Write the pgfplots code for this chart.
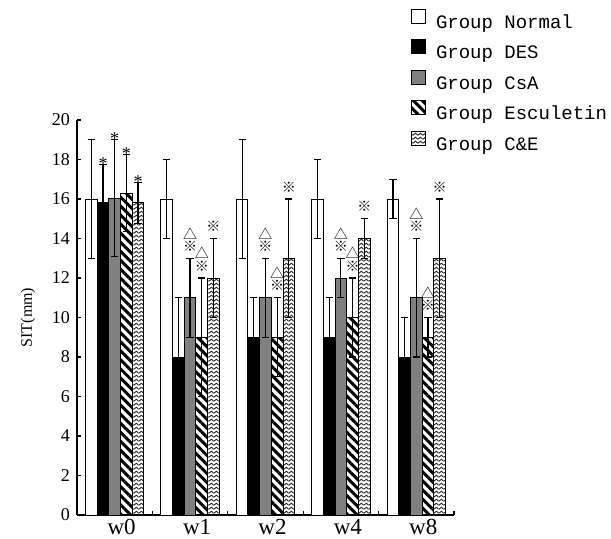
\documentclass[border=0pt]{standalone}
\usepackage{fontspec}
\setmainfont{Liberation Serif}
\newfontfamily\cjk{Noto Sans CJK SC}
\newfontfamily\legfont{Liberation Mono}
\usepackage{pgfplots}
\pgfplotsset{compat=1.18}
\usetikzlibrary{patterns,patterns.meta}

\tikzdeclarepattern{
  name=zigzag,
  type=uncolored,
  bounding box={(0pt,0pt) and (2.4pt,2.1pt)},
  tile size={(2.4pt,2.1pt)},
  code={
    \draw[line width=0.5pt] (0pt,0.45pt) -- (1.2pt,1.65pt) -- (2.4pt,0.45pt);
  }
}

\pgfplotsset{
  mybar/.style={ybar, bar width=0.155, bar shift=0pt, draw=black, line width=0.5pt,
    error bars/y dir=both, error bars/y explicit,
    error bars/error bar style={line width=0.6pt, black, solid},
    error bars/error mark options={rotate=90, mark size=1.8pt, line width=0.6pt, black, solid}},
  sym/.style={draw=none, mark=none, forget plot, nodes near coords={#1},
    every node near coord/.append style={anchor=center, inner sep=0pt, black}},
}

\begin{document}
\begin{tikzpicture}
\path[use as bounding box] (-38.5pt,-11.5pt) rectangle (267pt,257.5pt);
\begin{axis}[
  at={(0pt,0pt)}, anchor=south west,
  scale only axis, width=188.5pt, height=197.5pt,
  xmin=0, xmax=5, ymin=0, ymax=20,
  axis x line*=bottom, axis y line*=left,
  axis line style={line width=0.8pt},
  tick align=inside,
  xtick={1,2,3,4,5}, xticklabels={},
  extra x ticks={0.5,1.5,2.5,3.5,4.5},
  extra x tick labels={w0,w1,w2,w4,w8},
  extra x tick style={major tick length=0pt},
  ytick={0,2,...,20},
  major tick length=2.2pt,
  tick style={black, line width=0.6pt},
  /pgf/number format/assume math mode=true,
  yticklabel style={font=\fontsize{9}{10}\selectfont},
  xticklabel style={font=\fontsize{11.5}{12}\selectfont, xshift=3.5pt, yshift=1.5pt},
  ylabel={SIT(mm)},
  ylabel style={at={(axis description cs:-0.13,0.5)}, anchor=center, font=\fontsize{8}{9}\selectfont},
  legend style={at={(rel axis cs:0.886,1.282)}, anchor=north west, draw=none, fill=none,
    inner sep=0pt, outer sep=0pt, row sep=3.5pt, font=\legfont\fontsize{9.5}{10}\selectfont,
    nodes={inner sep=0pt, text height=7pt, text depth=2pt},
    /tikz/every odd column/.append style={column sep=5pt}},
  legend image code/.code={\draw[#1, draw=black, line width=0.5pt] (0pt,0pt) rectangle (7pt,7pt);},
  legend cell align=left,
]
% Group Normal
\addplot[mybar, fill=white] coordinates {
  (0.19,16) +- (0,3)
  (1.19,16) +- (0,2)
  (2.19,16) +- (0,3)
  (3.19,16) +- (0,2)
  (4.19,16) +- (0,1)
};
% Group DES
\addplot[mybar, fill=black] coordinates {
  (0.345,15.8) +- (0,1.95)
  (1.345,8) +- (0,3)
  (2.345,9) +- (0,2)
  (3.345,9) +- (0,2)
  (4.345,8) +- (0,2)
};
% Group CsA
\addplot[mybar, fill=black!50] coordinates {
  (0.5,16.05) +- (0,2.95)
  (1.5,11) +- (0,2)
  (2.5,11) +- (0,2)
  (3.5,12) +- (0,1)
  (4.5,11) +- (0,3)
};
% Group Esculetin
\addplot[mybar, fill=white, pattern={Lines[angle=-45,distance=3.2pt,line width=1.5pt]}] coordinates {
  (0.655,16.3) +- (0,1.95)
  (1.655,9) +- (0,3)
  (2.655,9) +- (0,2)
  (3.655,10) +- (0,2)
  (4.655,9) +- (0,1)
};
% Group C&E
\addplot[mybar, pattern=zigzag, pattern color=black!85] coordinates {
  (0.81,15.8) +- (0,1.05)
  (1.81,12) +- (0,2)
  (2.81,13) +- (0,3)
  (3.81,14) +- (0,1)
  (4.81,13) +- (0,3)
};
% asterisks at w0
\addplot[sym={*}, every node near coord/.append style={anchor=base, yshift=-2.6pt, font=\fontsize{9}{9}\selectfont}] coordinates {
  (0.345,17.75) (0.5,19.0) (0.655,18.25) (0.81,16.85)
};
% reference marks
\addplot[sym={\cjk ※}, every node near coord/.append style={yshift=6pt, font=\fontsize{7}{7}\selectfont}] coordinates {
  (1.5,13) (1.655,12) (1.81,14)
  (2.5,13) (2.655,11) (2.81,16)
  (3.5,13) (3.655,12) (3.81,15)
  (4.5,14) (4.655,10) (4.81,16)
};
\addplot[sym={\cjk △}, every node near coord/.append style={yshift=12.5pt, font=\fontsize{7}{7}\selectfont}] coordinates {
  (1.5,13) (1.655,12)
  (2.5,13) (2.655,11)
  (3.5,13) (3.655,12)
  (4.5,14) (4.655,10)
};
\legend{Group Normal, Group DES, Group CsA, Group Esculetin, Group C\&E}
\end{axis}
\end{tikzpicture}
\end{document}
